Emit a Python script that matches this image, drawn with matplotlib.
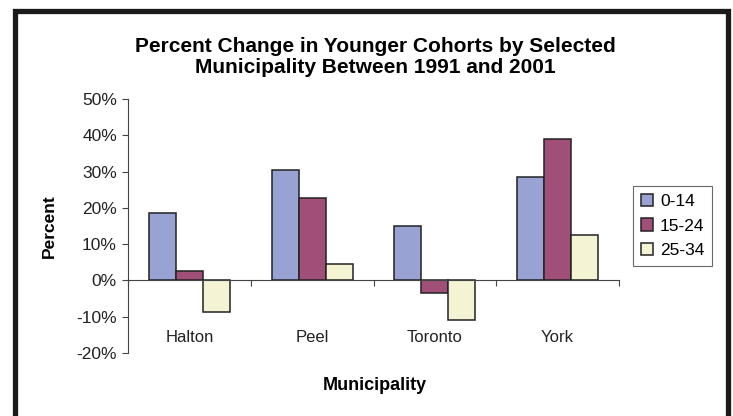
import matplotlib

matplotlib.use("Agg")
import matplotlib.pyplot as plt
from matplotlib.patches import Rectangle
from matplotlib.ticker import FixedLocator, PercentFormatter
import numpy as np

municipalities = ["Halton", "Peel", "Toronto", "York"]
cohorts = ["0-14", "15-24", "25-34"]
values = {
    "0-14": [18.5, 30.5, 14.9, 28.4],
    "15-24": [2.5, 22.7, -3.5, 39.1],
    "25-34": [-8.8, 4.6, -11.0, 12.4],
}
colors = ["#99A3D3", "#A05078", "#F4F4D4"]

plt.rcParams.update({
    "font.family": ["Liberation Sans", "DejaVu Sans"],
    "axes.unicode_minus": False,
})

W, H = 733, 416
fig = plt.figure(figsize=(W / 100, H / 100), dpi=100)
ax = fig.add_axes([128 / W, 1 - 353 / H, (619 - 128) / W, (353 - 99) / H])

x = np.arange(len(municipalities))
width = 0.22
for i, (c, col) in enumerate(zip(cohorts, colors)):
    ax.bar(x + (i - 1) * width, values[c], width, color=col,
           edgecolor="#222222", linewidth=1.1, label=c, zorder=2)

ax.set_xlim(-0.5, len(municipalities) - 0.5)
ax.set_ylim(-20, 50)
ax.yaxis.set_major_locator(FixedLocator(np.arange(-20, 51, 10)))
ax.yaxis.set_major_formatter(PercentFormatter(decimals=0))

for s in ["top", "right"]:
    ax.spines[s].set_visible(False)
ax.spines["bottom"].set_position(("data", 0))
ax.spines["bottom"].set_color("#444444")
ax.spines["left"].set_color("#444444")
ax.spines["bottom"].set_zorder(3)

# ticks between categories, labels at category centres
ax.set_xticks(np.arange(-0.5, len(municipalities)), minor=False)
ax.set_xticklabels([])
ax.set_xticks(x, minor=True)
ax.set_xticklabels(municipalities, minor=True)
ax.tick_params(axis="x", which="major", direction="out", length=4, color="#444444")
ax.tick_params(axis="x", which="minor", length=0, pad=36, labelsize=12, labelcolor="#222222")
ax.tick_params(axis="y", direction="out", length=4, color="#444444",
               labelsize=12.5, labelcolor="#222222", pad=4)

ax.set_ylabel("Percent", fontsize=12.5, fontweight="bold", labelpad=14)
fig.text(375 / W, 1 - 385 / H, "Municipality", ha="center", va="center",
         fontsize=13, fontweight="bold")
fig.text(375 / W, 1 - 57 / H,
         "Percent Change in Younger Cohorts by Selected\nMunicipality Between 1991 and 2001",
         ha="center", va="center", fontsize=15, fontweight="bold", linespacing=1.08)

leg = ax.legend(loc="center left", bbox_to_anchor=(633 / W, 1 - 226 / H),
                bbox_transform=fig.transFigure, frameon=True, fancybox=False,
                fontsize=12.5, handlelength=0.7, handleheight=0.7,
                handletextpad=0.4, labelspacing=0.55, borderpad=0.45,
                borderaxespad=0)
leg.get_frame().set_edgecolor("#444444")
leg.get_frame().set_linewidth(0.8)

# outer chart border
fig.patches.append(Rectangle((14.5 / W, -0.05), (728 - 14.5) / W, 1.05 - 10.5 / H,
                             transform=fig.transFigure, fill=False,
                             edgecolor="#1a1a1a", linewidth=3.8))

fig.savefig("out.png", dpi=100)
